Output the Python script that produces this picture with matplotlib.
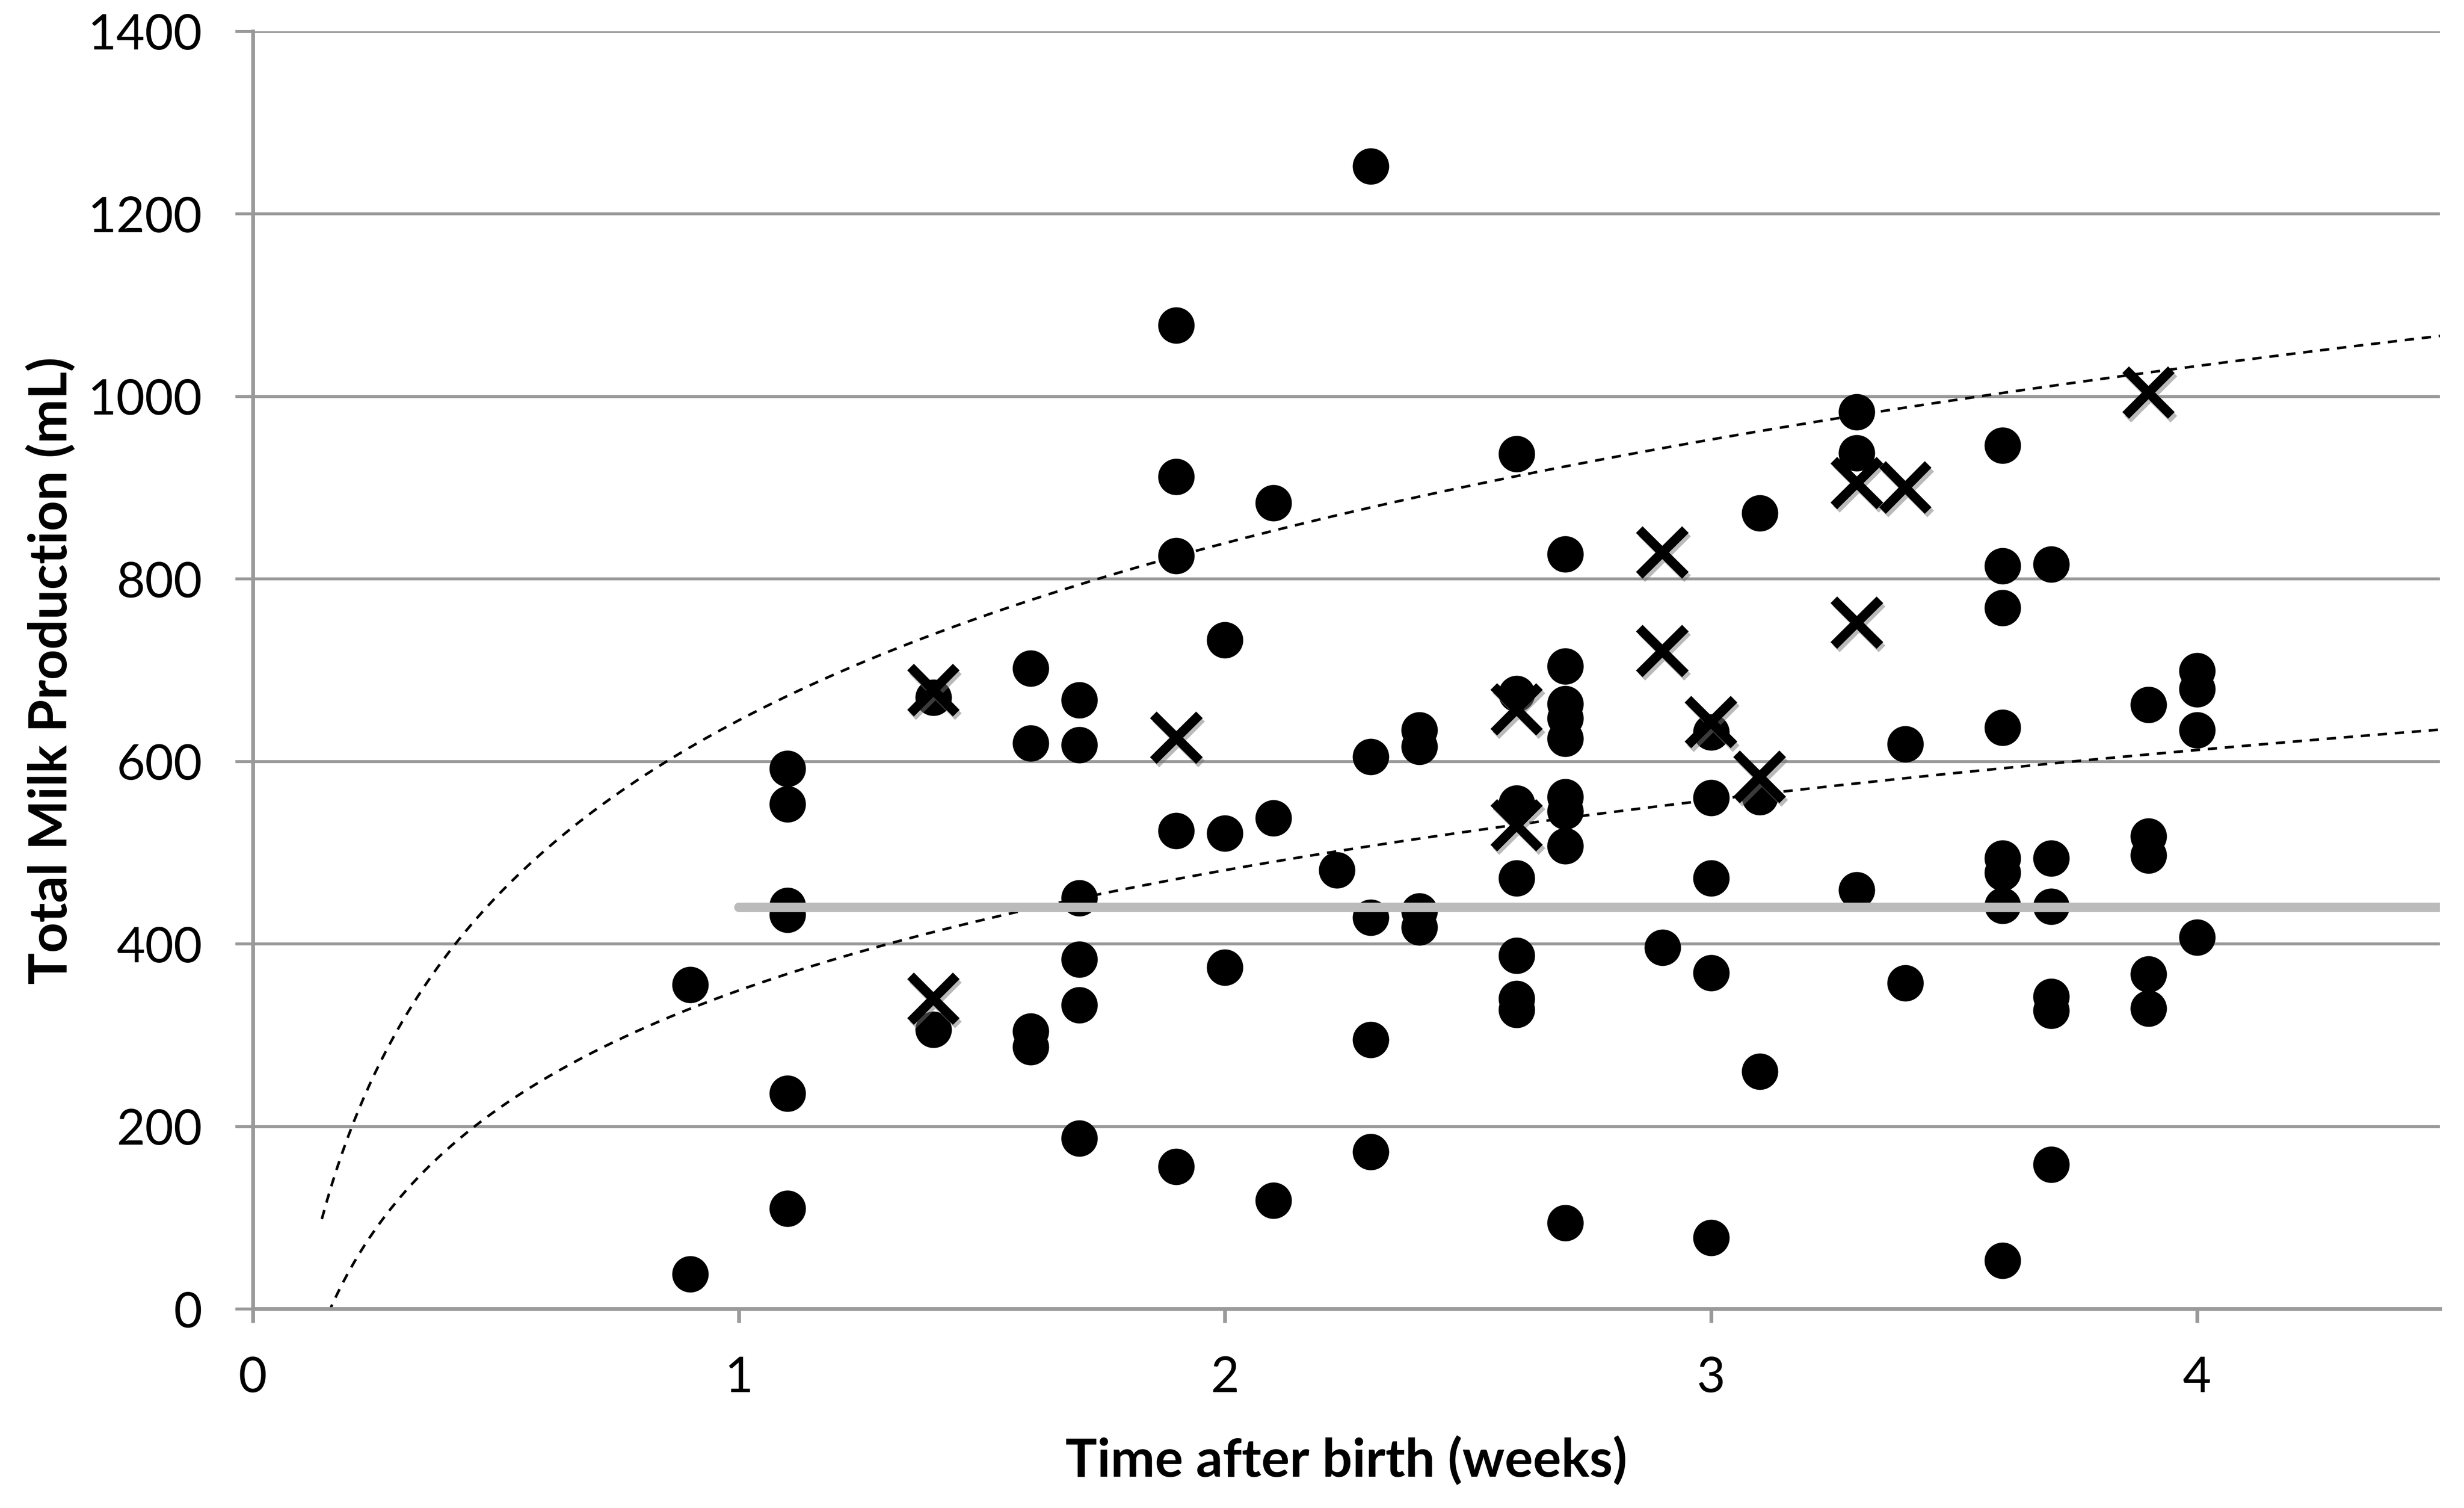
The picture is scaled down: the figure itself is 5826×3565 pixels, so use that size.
import numpy as np
import matplotlib
matplotlib.use("Agg")
import matplotlib.pyplot as plt
import matplotlib.patheffects as pe

plt.rcParams['font.family'] = ['Lato', 'DejaVu Sans']

# ---- data ----
circle_x = [0.9, 0.9,
            1.1, 1.1, 1.1, 1.1, 1.1, 1.1,
            1.4, 1.4,
            1.6, 1.6, 1.6, 1.6,
            1.7, 1.7, 1.7, 1.7, 1.7, 1.7,
            1.9, 1.9, 1.9, 1.9, 1.9,
            2.0, 2.0, 2.0,
            2.1, 2.1, 2.1,
            2.23,
            2.3, 2.3, 2.3, 2.3, 2.3,
            2.4, 2.4, 2.4, 2.4,
            2.6, 2.6, 2.6, 2.6, 2.6, 2.6, 2.6,
            2.7, 2.7, 2.7, 2.7, 2.7, 2.7, 2.7, 2.7, 2.7,
            2.9,
            3.0, 3.0, 3.0, 3.0, 3.0,
            3.1, 3.1, 3.1,
            3.3, 3.3, 3.3,
            3.4, 3.4,
            3.6, 3.6, 3.6, 3.6, 3.6, 3.6, 3.6, 3.6,
            3.7, 3.7, 3.7, 3.7, 3.7, 3.7,
            3.9, 3.9, 3.9, 3.9, 3.9,
            4.0, 4.0, 4.0, 4.0]
circle_y = [355, 38,
            592, 553, 442, 432, 236, 110,
            670, 306,
            702, 620, 304, 287,
            667, 618, 450, 383, 333, 187,
            1078, 912, 825, 524, 156,
            733, 521, 374,
            883, 538, 119,
            481,
            1252, 605, 429, 295, 172,
            634, 616, 436, 418,
            937, 674, 554, 472, 387, 340, 328,
            827, 704, 663, 647, 625, 561, 545, 507, 94,
            396,
            632, 560, 472, 368, 78,
            872, 561, 260,
            983, 938, 459,
            619, 357,
            946, 814, 768, 637, 494, 478, 442, 53,
            816, 494, 441, 342, 327, 158,
            662, 518, 497, 367, 329,
            699, 679, 634, 407]

cross_x = [1.4, 1.4, 1.9, 2.6, 2.6, 2.9, 2.9, 3.0, 3.1, 3.3, 3.3, 3.4, 3.9]
cross_y = [678, 340, 626, 657, 530, 829, 721, 643, 583, 905, 752, 900, 1004]

# horizontal reference line
ref_level = 440
ref_x = [1.0, 4.5]

# logarithmic trendlines: y = a + b*ln(x)
upper_a, upper_b = 645, 280
lower_a, lower_b = 349, 190
trend_x_range = [0.142, 4.5]

x_ticks = [0, 1, 2, 3, 4]
y_ticks = [0, 200, 400, 600, 800, 1000, 1200, 1400]

# ---- figure ----
W, H, DPI = 5826, 3566, 400
fig = plt.figure(figsize=(W / DPI, H / DPI), dpi=DPI)
ax = fig.add_axes([0.1026, 0.132, 0.8877, 0.847])

grid_col = '#999999'
for yt in y_ticks[1:]:
    ax.axhline(yt, color=grid_col, lw=1.25, zorder=1)

tx = np.linspace(trend_x_range[0], trend_x_range[1], 400)
ax.plot(tx, upper_a + upper_b * np.log(tx), color='black', lw=1.1,
        dashes=(3.6, 3.0), zorder=2)
ax.plot(tx, lower_a + lower_b * np.log(tx), color='black', lw=1.1,
        dashes=(3.6, 3.0), zorder=2)

ax.plot(circle_x, circle_y, linestyle='none', marker='o', markersize=14.5,
        color='black', zorder=3)

ax.plot(ref_x, [ref_level, ref_level], color='#BBBBBB', lw=4,
        solid_capstyle='round', zorder=4)

ax.plot(cross_x, cross_y, linestyle='none', marker='x', markersize=19.5,
        markeredgewidth=4.0, color='black', zorder=5,
        path_effects=[pe.SimpleLineShadow(offset=(1.0, -1.5), shadow_color='#777777', alpha=0.5),
                      pe.Normal()])

ax.set_xlim(0, 4.5)
ax.set_ylim(0, 1400)
ax.set_xticks(x_ticks)
ax.set_yticks(y_ticks)
ax.set_xticklabels([str(v) for v in x_ticks])
ax.set_yticklabels([str(v) for v in y_ticks])

for s in ['top', 'right']:
    ax.spines[s].set_visible(False)
for s in ['left', 'bottom']:
    ax.spines[s].set_color(grid_col)
    ax.spines[s].set_linewidth(1.6)

ax.tick_params(axis='y', length=7.5, width=1.25, color=grid_col, pad=14,
               labelsize=21, labelcolor='black')
ax.tick_params(axis='x', length=6, width=1.6, color=grid_col, pad=14,
               labelsize=21, labelcolor='black')

ax.set_xlabel('Time after birth (weeks)', fontsize=22.5, fontweight='bold', labelpad=15)
ax.set_ylabel('Total Milk Production (mL)', fontsize=22.5, fontweight='bold')
ax.yaxis.set_label_coords(-0.081, 0.5)

fig.savefig('out.png', dpi=DPI, facecolor='white')
